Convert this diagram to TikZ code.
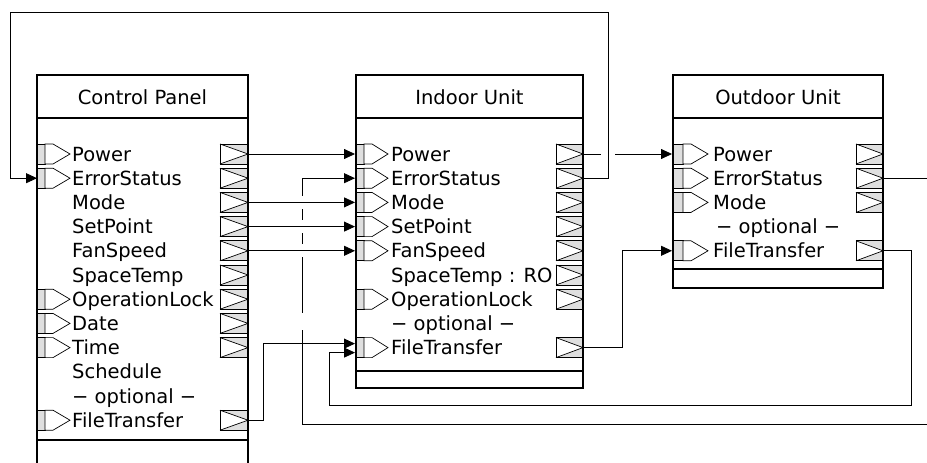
\documentclass[tikz,border=0pt]{standalone}
\usepackage{fontspec}
\setmainfont{DejaVu Sans}
\usetikzlibrary{arrows.meta}
\tikzset{
  boxline/.style={line width=2pt},
  portline/.style={line width=0.7pt},
  conn/.style={line width=0.8pt},
  arr/.style={conn,-{Triangle[length=11pt,width=10pt]}},
  lbl/.style={anchor=base west,inner sep=0pt,font=\fontsize{19.5}{19.5}\selectfont},
  ttl/.style={anchor=base,inner sep=0pt,font=\fontsize{19.5}{19.5}\selectfont},
}
% input port: x, y, rect width, tip offset
\newcommand\inport[4]{%
  \fill[gray!25] (#1,#2-10) rectangle (#1+#3,#2+10);
  \draw[portline] (#1,#2-10) rectangle (#1+#3,#2+10);
  \draw[portline,fill=white] (#1+#3,#2-10) -- (#1+#3+8,#2-10) -- (#1+#4,#2) -- (#1+#3+8,#2+10) -- (#1+#3,#2+10) -- cycle;}
% output port: right x, y, width
\newcommand\outport[3]{%
  \fill[gray!25] (#1-#3,#2-10) rectangle (#1,#2+10);
  \fill[white] (#1-#3,#2-10) -- (#1,#2) -- (#1-#3,#2+10) -- cycle;
  \draw[portline] (#1-#3,#2-10) rectangle (#1,#2+10);
  \draw[portline] (#1-#3,#2-10) -- (#1,#2) -- (#1-#3,#2+10);}
\begin{document}
\begin{tikzpicture}[x=1pt,y=-1pt]
\useasboundingbox (0,0) rectangle (927,463);
\clip (0,0) rectangle (927,463);

% ---------- ports ----------
% Control Panel
\foreach \r in {154,178.2,299.2,323.4,347.6,420.2} {\inport{37}{\r}{8}{33}}
\foreach \r in {154,178.2,202.4,226.6,250.8,275,299.2,323.4,347.6,420.2} {\outport{248}{\r}{28}}
% Indoor Unit
\foreach \r in {154,178.2,202.4,226.6,250.8,299.2,347.6} {\inport{356}{\r}{8}{32}}
\foreach \r in {154,178.2,202.4,226.6,250.8,275,299.2,347.6} {\outport{583}{\r}{27}}
% Outdoor Unit
\foreach \r in {154,178.2,202.4,250.8} {\inport{673}{\r}{10}{35}}
\foreach \r in {154,178.2,202.4,250.8} {\outport{883}{\r}{27}}

% ---------- boxes ----------
\draw[boxline] (37,475) -- (37,75) -- (248,75) -- (248,475);
\draw[boxline] (37,118) -- (248,118);
\draw[boxline] (37,440) -- (248,440);
\node[ttl] (cpT) at (142.5,104) {Control Panel};

\draw[boxline] (356,75) rectangle (583,388);
\draw[boxline] (356,118) -- (583,118);
\draw[boxline] (356,371) -- (583,371);
\node[ttl] (inT) at (469.5,104) {Indoor Unit};

\draw[boxline] (673,75) rectangle (883,288);
\draw[boxline] (673,118) -- (883,118);
\draw[boxline] (673,269) -- (883,269);
\node[ttl] (odT) at (778,104) {Outdoor Unit};

% ---------- labels ----------
\node[lbl] (cp0) at (72,161) {Power};
\node[lbl] (cp1) at (72,185.2) {ErrorStatus};
\node[lbl] (cp2) at (72,209.4) {Mode};
\node[lbl] (cp3) at (72,233.6) {SetPoint};
\node[lbl] (cp4) at (72,257.8) {FanSpeed};
\node[lbl] (cp5) at (72,282) {SpaceTemp};
\node[lbl] (cp6) at (72,306.2) {OperationLock};
\node[lbl] (cp7) at (72,330.4) {Date};
\node[lbl] (cp8) at (72,354.6) {Time};
\node[lbl] (cp9) at (72,378.8) {Schedule};
\node[lbl] (cp10) at (72,403) {− optional −};
\node[lbl] (cp11) at (72,427.2) {FileTransfer};

\node[lbl] (in0) at (391,161) {Power};
\node[lbl] (in1) at (391,185.2) {ErrorStatus};
\node[lbl] (in2) at (391,209.4) {Mode};
\node[lbl] (in3) at (391,233.6) {SetPoint};
\node[lbl] (in4) at (391,257.8) {FanSpeed};
\node[lbl] (in5) at (391,282) {SpaceTemp : RO};
\node[lbl] (in6) at (391,306.2) {OperationLock};
\node[lbl] (in7) at (391,330.4) {− optional −};
\node[lbl] (in8) at (391,354.6) {FileTransfer};

\node[lbl] (od0) at (713,161) {Power};
\node[lbl] (od1) at (713,185.2) {ErrorStatus};
\node[lbl] (od2) at (713,209.4) {Mode};
\node[lbl] (od3) at (716,233.6) {− optional −};
\node[lbl] (od4) at (713,257.8) {FileTransfer};

% ---------- connector end points ----------
\coordinate (cpPowO) at (248,154);
\coordinate (cpErrI) at (37,178.2);
\coordinate (cpModO) at (248,202.4);
\coordinate (cpSetO) at (248,226.6);
\coordinate (cpFanO) at (248,250.8);
\coordinate (cpFtO) at (248,420.2);
\coordinate (inPowI) at (355,154);
\coordinate (inErrI) at (355,178.2);
\coordinate (inModI) at (355,202.4);
\coordinate (inSetI) at (355,226.6);
\coordinate (inFanI) at (355,250.8);
\coordinate (inFtIa) at (355,343.6);
\coordinate (inFtIb) at (355,352.6);
\coordinate (inPowO) at (583,154);
\coordinate (inErrO) at (583,178.2);
\coordinate (inFtO) at (583,347.6);
\coordinate (odPowI) at (672,154);
\coordinate (odFtI) at (672,250.8);
\coordinate (odErrO) at (883,178.2);
\coordinate (odFtO) at (883,250.8);
\coordinate (offA) at (927,178.2);
\coordinate (offB) at (927,424);

% ---------- connectors ----------
% Outdoor ErrorStatus (off picture) back to Indoor ErrorStatus
\draw[conn] (odErrO) -- (offA);
\draw[arr] (offB) -- (302,424) -- (302,178.2) -- (inErrI);
\fill[white] (300,195.9) rectangle (304,208.9);
\fill[white] (300,220.1) rectangle (304,233.1);
\fill[white] (300,244.3) rectangle (304,257.3);
\fill[white] (300,313) rectangle (304,330);

\draw[arr] (cpPowO) -- (inPowI);
\draw[arr] (cpModO) -- (inModI);
\draw[arr] (cpSetO) -- (inSetI);
\draw[arr] (cpFanO) -- (inFanI);

\draw[arr] (cpFtO) -- (263,420.2) -- (263,343.6) -- (inFtIa);
\draw[arr] (odFtO) -- (911,250.8) -- (911,405) -- (329,405) -- (329,352.6) -- (inFtIb);
\draw[arr] (inFtO) -- (622,347.6) -- (622,250.8) -- (odFtI);

\draw[arr] (inPowO) -- (odPowI);
\fill[white] (601,151) rectangle (615,157);
\draw[arr] (inErrO) -- (608,178.2) -- (608,12) -- (10,12) -- (10,178.2) -- (cpErrI);
\end{tikzpicture}
\end{document}
